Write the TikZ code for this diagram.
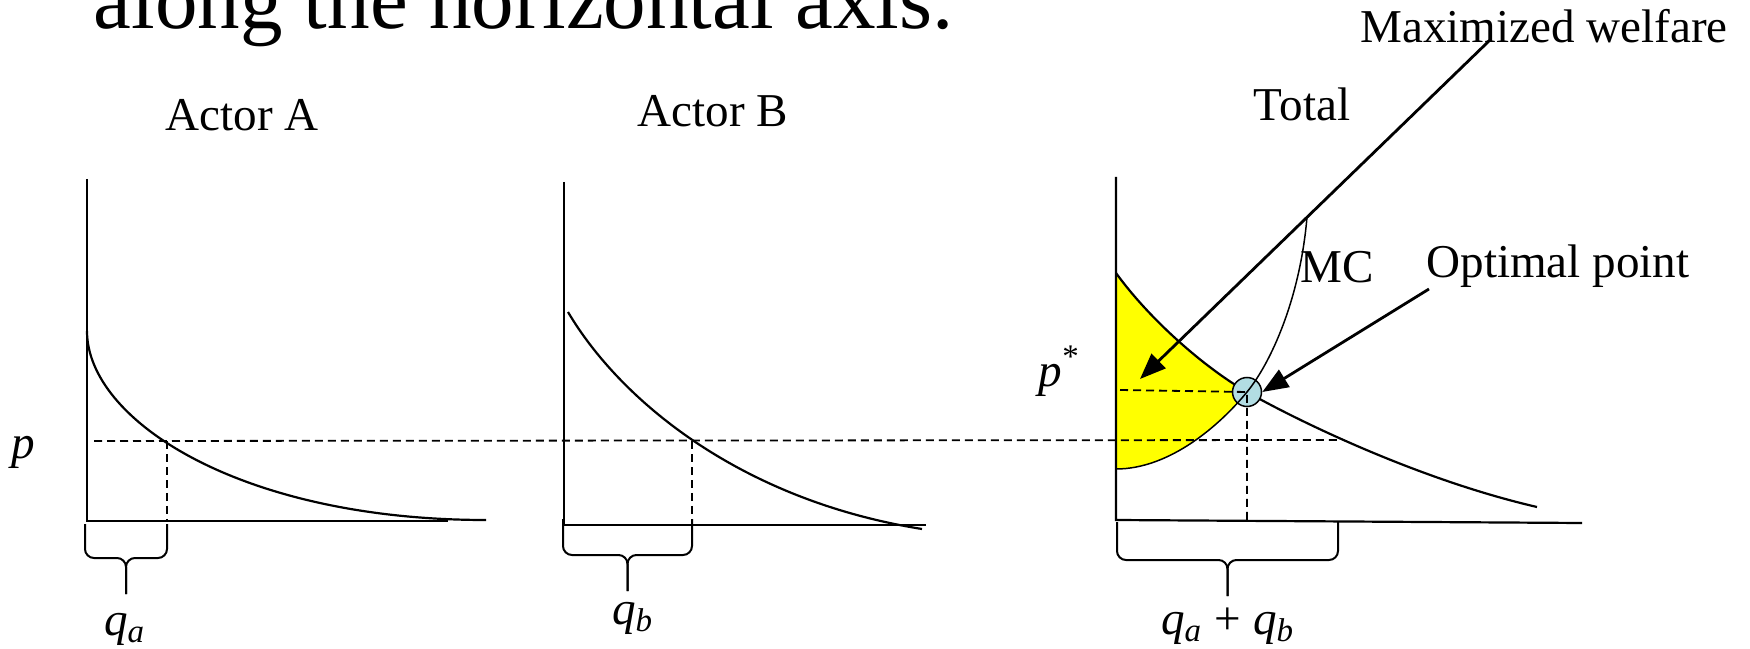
\documentclass[tikz,border=0pt]{standalone}
\usepackage{fontspec}
\setmainfont{Liberation Serif}
\usetikzlibrary{arrows.meta}
\definecolor{wfyellow}{RGB}{255,255,0}
\definecolor{optblue}{RGB}{178,221,227}

\begin{document}
\begin{tikzpicture}[
  x=0.1mm, y=-0.1mm,
  font=\fontsize{13.4}{16}\selectfont,
  lbl/.style={inner sep=0pt, anchor=base},
  ax/.style={line width=0.22mm},
  crv/.style={line width=0.22mm},
  mc/.style={line width=0.15mm},
  guide/.style={dash pattern=on 0.8mm off 0.5mm, line width=0.18mm},
  brc/.style={line width=0.2mm, rounded corners=0.9mm},
  arr/.style={-{Triangle[length=2.6mm, width=2mm]}, line width=0.28mm},
]
\useasboundingbox (0,0) rectangle (1750,649);
\clip (0,0) rectangle (1750,649);
% ---- headline (cut by the top edge) ----
\node[lbl, anchor=base west, font=\fontsize{24.2}{29}\selectfont] (head) at (93,29) {along the horizontal axis.};
% ---- panel titles ----
\node[lbl] (ttlA) at (242,131) {Actor A};
\node[lbl] (ttlB) at (713,127) {Actor B};
\node[lbl] (ttlC) at (1302,121) {Total};
% ---- welfare area ----
\fill[wfyellow] (1116,273) .. controls (1150,320) and (1205,368) .. (1247,392)
  .. controls (1220,425) and (1170,469) .. (1116,469) -- cycle;
% ---- axes ----
\draw[ax] (87,179) -- (87,521) -- (448,521);
\draw[ax] (564,182) -- (564,525) -- (926,525);
\draw[ax] (1116,177) -- (1116,520) -- (1582,523);
% ---- common price p ----
\draw[guide] (94,441) -- (1340,440);
\draw[guide] (167,441) -- (167,521);
\draw[guide] (692,441) -- (692,525);
% ---- demand curves ----
\draw[crv] (87,331) .. controls (87,420) and (240,520) .. (486,520);
\draw[crv] (568,312) .. controls (620,400) and (740,500) .. (922,529);
\draw[crv] (1116,273) .. controls (1150,320) and (1205,368) .. (1247,392)
  .. controls (1300,422) and (1420,480) .. (1537,507);
% ---- optimum ----
\node[circle, draw, fill=optblue, line width=0.15mm, minimum size=2.9mm, inner sep=0pt] (opt) at (1247,392) {};
\draw[guide] (1120,390) -- (opt.center) -- (1247,520);
\draw[mc] (1116,469) .. controls (1170,469) and (1220,425) .. (opt.center)
  .. controls (1270,364) and (1300,300) .. (1307,217);
% ---- braces ----
\foreach \l/\r/\t/\h in {85/167/524/558, 563/692/519/555, 1117/1338/522/560}{
  \draw[brc] (\l,\t) -- (\l,\h) -- ({(\l+\r)/2},\h) -- ({(\l+\r)/2},\h+36);
  \draw[brc] (\r,\t) -- (\r,\h) -- ({(\l+\r)/2},\h) -- ({(\l+\r)/2},\h+36);
}
% ---- labels ----
\node[lbl] (plab) at (23,459) {\textit{p}};
\node[lbl, anchor=base west] (pstar) at (1038,386) {\textit{p}\textsuperscript{*}};
\node[lbl] (qa) at (125,635) {\textit{q}\textsubscript{\textit{a}}};
\node[lbl] (qb) at (633,624) {\textit{q}\textsubscript{\textit{b}}};
\node[lbl] (qab) at (1228,634) {\textit{q}\textsubscript{\textit{a}} + \textit{q}\textsubscript{\textit{b}}};
\node[lbl] (mclab) at (1337,283) {MC};
\node[lbl] (optlab) at (1558,278) {Optimal point};
\node[lbl] (wflab) at (1544,43) {Maximized welfare};
% ---- callout arrows ----
\coordinate (wffrom) at (1490,40);
\coordinate (wfto) at (1140,379);
\coordinate (optfrom) at (1429,289);
\draw[arr] (wffrom) -- (wfto);
\draw[arr] (optfrom) -- (opt.east);
\end{tikzpicture}
\end{document}
